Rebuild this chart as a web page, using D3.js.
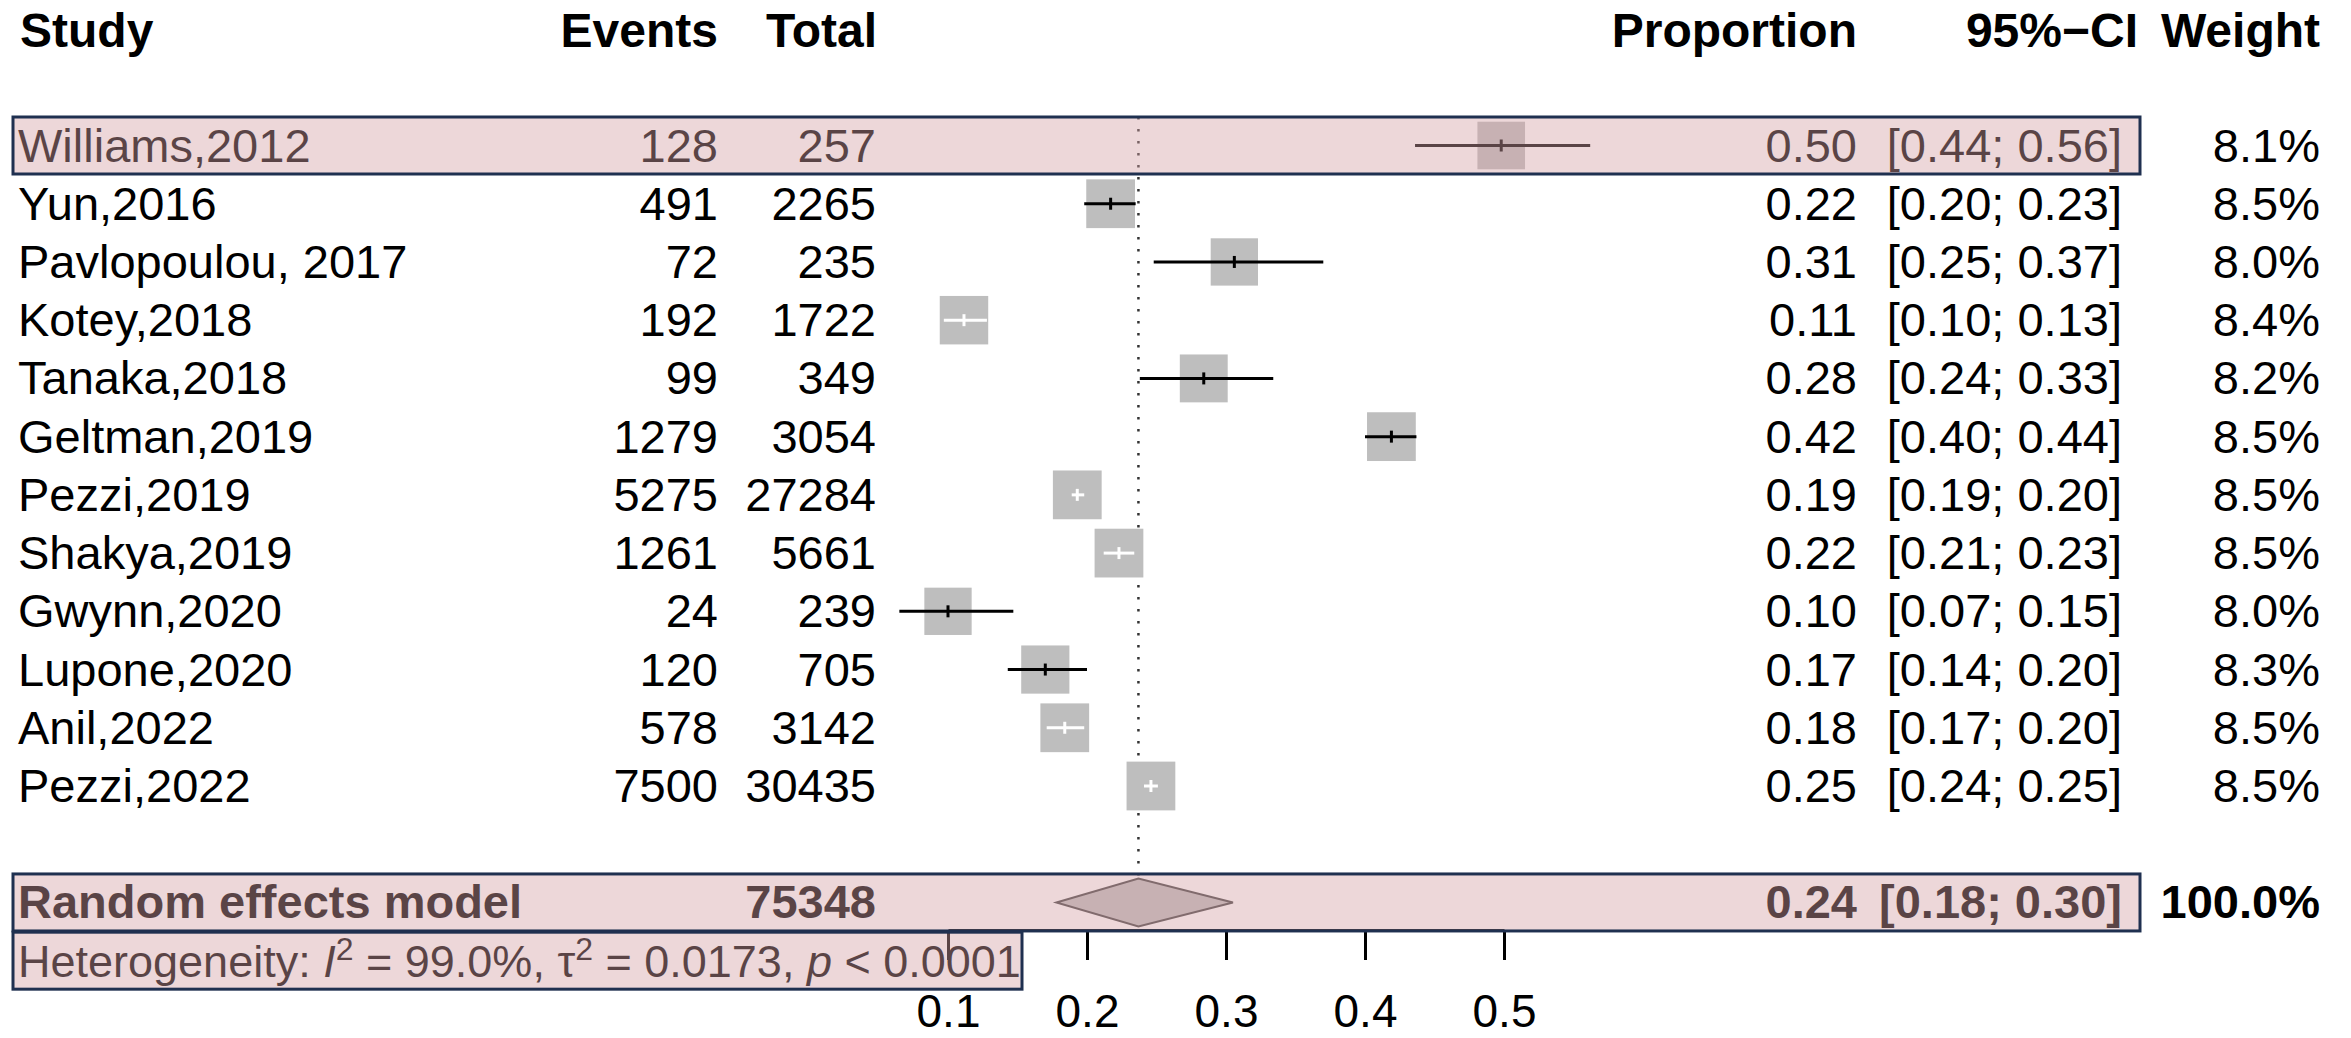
<!DOCTYPE html>
<html>
<head>
<meta charset="utf-8">
<script src="https://cdn.jsdelivr.net/npm/d3@7"></script>
<style>
body { margin: 0; background: #fff; }
text { font-family: "Liberation Sans", Arial, sans-serif; }
</style>
</head>
<body>
<svg id="chart"></svg>
<script>
// study data
var studies = ["Williams,2012", "Yun,2016", "Pavlopoulou, 2017", "Kotey,2018", "Tanaka,2018", "Geltman,2019",
               "Pezzi,2019", "Shakya,2019", "Gwynn,2020", "Lupone,2020", "Anil,2022", "Pezzi,2022"]
var events = [128, 491, 72, 192, 99, 1279, 5275, 1261, 24, 120, 578, 7500]
var totals = [257, 2265, 235, 1722, 349, 3054, 27284, 5661, 239, 705, 3142, 30435]
var proportion = [0.498, 0.217, 0.306, 0.1115, 0.284, 0.419, 0.193, 0.223, 0.100, 0.170, 0.184, 0.246]
var ciLower = [0.436, 0.198, 0.248, 0.097, 0.238, 0.400, 0.189, 0.212, 0.065, 0.143, 0.171, 0.241]
var ciUpper = [0.562, 0.235, 0.370, 0.128, 0.334, 0.437, 0.198, 0.234, 0.147, 0.200, 0.198, 0.251]
var propLabels = ["0.50", "0.22", "0.31", "0.11", "0.28", "0.42", "0.19", "0.22", "0.10", "0.17", "0.18", "0.25"]
var ciLabels = ["[0.44; 0.56]", "[0.20; 0.23]", "[0.25; 0.37]", "[0.10; 0.13]", "[0.24; 0.33]", "[0.40; 0.44]",
                "[0.19; 0.20]", "[0.21; 0.23]", "[0.07; 0.15]", "[0.14; 0.20]", "[0.17; 0.20]", "[0.24; 0.25]"]
var weights = [8.1, 8.5, 8.0, 8.4, 8.2, 8.5, 8.5, 8.5, 8.0, 8.3, 8.5, 8.5]

// random effects model
var pooledTotal = 75348
var pooledEst = 0.237
var pooledLo = 0.178
var pooledHi = 0.305
var pooledLabel = "0.24"
var pooledCiLabel = "[0.18; 0.30]"
var pooledWeight = "100.0%"

var headers = ["Study", "Events", "Total", "Proportion", "95%\u2212CI", "Weight"]
var tickValues = [0.1, 0.2, 0.3, 0.4, 0.5]

var W = 2351, H = 1038
var svg = d3.select("#chart").attr("width", W).attr("height", H)

var x = d3.scaleLinear().domain([0.1, 0.5]).range([948, 1504])
var rowY = d3.scaleLinear().domain([0, 11]).range([145.5, 786])
var axisY = 930

// column anchors
var colStudy = 18, colEvents = 718, colTotal = 876, colProp = 1857, colCI = 2122, colWeight = 2320

function txt(g, xx, yy, s, anchor, size, weight)
{
    return g.append("text")
        .attr("x", xx).attr("y", yy)
        .attr("text-anchor", anchor)
        .attr("font-size", size)
        .attr("font-weight", weight || "normal")
        .attr("fill", "#000")
        .text(s)
}

// header
var head = svg.append("g")
txt(head, 20, 47, headers[0], "start", 48, "bold")
txt(head, colEvents, 47, headers[1], "end", 48, "bold")
txt(head, 877, 47, headers[2], "end", 48, "bold")
txt(head, colProp, 47, headers[3], "end", 48, "bold")
txt(head, 2138, 47, headers[4], "end", 48, "bold")
txt(head, colWeight, 47, headers[5], "end", 48, "bold")

// reference line at pooled estimate
var sumY = rowY(13)
svg.append("line")
    .attr("x1", x(pooledEst)).attr("x2", x(pooledEst))
    .attr("y1", 117).attr("y2", sumY - 24)
    .attr("stroke", "#333").attr("stroke-width", 2.5)
    .attr("stroke-dasharray", "2.5,9.5")

// squares and CI lines
var side = function(w) { return 47.3 * Math.sqrt(w / 8.0) }
var rows = svg.append("g").selectAll("g")
    .data(studies.map(function(s, i) { return i }))
    .join("g")

rows.append("rect")
    .attr("x", function(i) { return x(proportion[i]) - side(weights[i]) / 2 })
    .attr("y", function(i) { return rowY(i) - side(weights[i]) / 2 })
    .attr("width", function(i) { return side(weights[i]) })
    .attr("height", function(i) { return side(weights[i]) })
    .attr("fill", "#bebebe")

function lineColor(i)
{
    var h = side(weights[i]) / 2
    var c = x(proportion[i])
    if (x(ciLower[i]) > c - h && x(ciUpper[i]) < c + h) return "#fff"
    return "#000"
}

rows.append("line")
    .attr("x1", function(i) { return x(ciLower[i]) })
    .attr("x2", function(i) { return x(ciUpper[i]) })
    .attr("y1", function(i) { return rowY(i) })
    .attr("y2", function(i) { return rowY(i) })
    .attr("stroke", lineColor).attr("stroke-width", 3)

rows.append("line")
    .attr("x1", function(i) { return x(proportion[i]) })
    .attr("x2", function(i) { return x(proportion[i]) })
    .attr("y1", function(i) { return rowY(i) - 6 })
    .attr("y2", function(i) { return rowY(i) + 6 })
    .attr("stroke", lineColor).attr("stroke-width", 3)

// row texts
studies.forEach(function(s, i) {
    var by = rowY(i) + 16
    txt(svg, colStudy, by, s, "start", 47)
    txt(svg, colEvents, by, events[i], "end", 47)
    txt(svg, colTotal, by, totals[i], "end", 47)
    txt(svg, colProp, by, propLabels[i], "end", 47)
    txt(svg, colCI, by, ciLabels[i], "end", 47)
    txt(svg, colWeight, by, d3.format(".1f")(weights[i]) + "%", "end", 47)
})

// diamond
svg.append("path")
    .attr("d", "M" + x(pooledLo) + "," + sumY +
               "L" + x(pooledEst) + "," + (sumY - 24) +
               "L" + x(pooledHi) + "," + sumY +
               "L" + x(pooledEst) + "," + (sumY + 24) + "Z")
    .attr("fill", "#bebebe").attr("stroke", "#444").attr("stroke-width", 2)

var sb = sumY + 16
txt(svg, colStudy, sb, "Random effects model", "start", 47, "bold")
txt(svg, colTotal, sb, pooledTotal, "end", 47, "bold")
txt(svg, colProp, sb, pooledLabel, "end", 47, "bold")
txt(svg, colCI, sb, pooledCiLabel, "end", 47, "bold")
txt(svg, colWeight, sb, pooledWeight, "end", 47, "bold")

// heterogeneity line
var hetY = rowY(14)
var het = svg.append("text").attr("x", colStudy).attr("y", hetY + 16)
    .attr("font-size", 45).attr("fill", "#000")
het.append("tspan").text("Heterogeneity: ")
het.append("tspan").attr("font-style", "italic").text("I")
het.append("tspan").attr("font-size", 32).attr("dy", -17).text("2")
het.append("tspan").attr("dy", 17).text(" = 99.0%, \u03c4")
het.append("tspan").attr("font-size", 32).attr("dy", -17).text("2")
het.append("tspan").attr("dy", 17).text(" = 0.0173, ")
het.append("tspan").attr("font-style", "italic").text("p")
het.append("tspan").text(" < 0.0001")

// x axis
var axis = svg.append("g")
    .attr("transform", "translate(0," + axisY + ")")
    .call(d3.axisBottom(x).tickValues(tickValues).tickFormat(d3.format(".1f"))
        .tickSize(30).tickSizeOuter(0).tickPadding(34))
axis.select(".domain").attr("stroke", "#000").attr("stroke-width", 3)
axis.selectAll(".tick line").attr("stroke", "#000").attr("stroke-width", 3)
axis.selectAll(".tick text")
    .attr("font-size", 46)
    .attr("font-family", "'Liberation Sans', Arial, sans-serif")
    .attr("fill", "#000")

// highlight boxes drawn on top
var boxes = [
    { x0: 13, x1: 2140, yc: rowY(0) },
    { x0: 13, x1: 2140, yc: sumY },
    { x0: 13, x1: 1022, yc: hetY }
]
svg.append("g").selectAll("rect")
    .data(boxes)
    .join("rect")
    .attr("x", function(d) { return d.x0 })
    .attr("y", function(d) { return d.yc - 28.5 })
    .attr("width", function(d) { return d.x1 - d.x0 })
    .attr("height", 57)
    .attr("fill", "#d4a0a5").attr("fill-opacity", 0.425)
    .attr("stroke", "#1f3050").attr("stroke-width", 3)
</script>
</body>
</html>
